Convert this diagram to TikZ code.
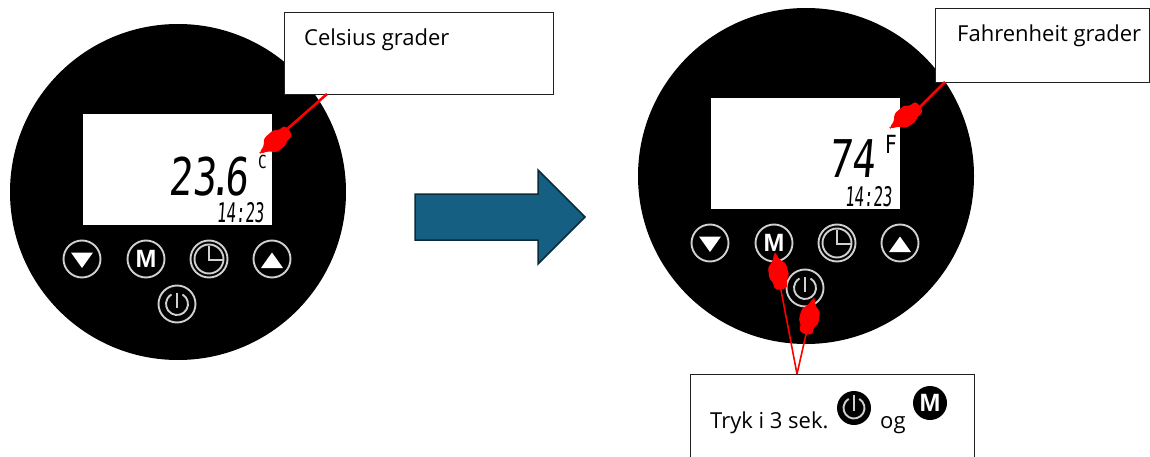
\documentclass[tikz,border=0pt]{standalone}
\usepackage{fontspec}
\setmainfont{Open Sans}
\newfontfamily\lcdfont{DejaVu Sans Mono}
\newfontfamily\iconfont{Liberation Sans}
\usetikzlibrary{calc}
\definecolor{ringgray}{HTML}{D0D0D0}
\definecolor{arrowfill}{HTML}{156082}
\definecolor{arrowline}{HTML}{0A2B3A}
\definecolor{boxline}{HTML}{202020}
\tikzset{
  x=1pt,y=-1pt,
  body/.style={circle,fill=black,draw=none,minimum size=336pt,inner sep=0pt},
  lcd/.style={fill=white,draw=none},
  ring/.style={draw=ringgray,line width=1.9pt},
  note/.style={draw=boxline,line width=0.8pt,fill=white},
  notetext/.style={font=\fontsize{22}{24}\selectfont,anchor=base west,inner sep=0pt,text=black},
  pointer/.style={draw=red,line width=1.6pt},
  pointerthick/.style={draw=red,line width=2.6pt},
  lcdbig/.style={font=\fontsize{52}{52}\lcdfont,inner sep=0pt,text=black,xscale=0.75,xslant=0.12,transform shape},
  lcdsmall/.style={font=\fontsize{27}{27}\lcdfont,inner sep=0pt,text=black,xscale=0.58,xslant=0.12,transform shape},
  lcdunit/.style={inner sep=0pt,text=black,xscale=0.8,transform shape},
  handshape/.pic={
    \fill[red,rounded corners=2.5pt] (0,-0.8) -- (7,-3) -- (12,-9) -- (25,-10) -- (28,-6.5) -- (36,-6.5) -- (37,-2) -- (37,3)
      -- (35,7) -- (28,7) -- (25,10) -- (13,9.5) -- (8,4) -- (0,0.8) -- cycle;
  },
  pics/device/.style={code={
    \node[body] at (0,0) {};
    \fill[lcd] (-95,-78) rectangle (94,33);
    % down
    \draw[ring] (-96,67) circle (18.5);
    \fill[white] (-107,60.5) -- (-85,60.5) -- (-96,76) -- cycle;
    % M
    \draw[ring] (-32,67) circle (18.5);
    \node[text=white,inner sep=0pt,font=\fontsize{25}{25}\iconfont\bfseries] at (-32,67) {M};
    % clock
    \draw[ring] (31,67) circle (18.5);
    \draw[ring] (31,67) circle (14.5);
    \draw[ring] (31,54) -- (31,68) -- (46,68);
    % up
    \draw[ring] (94,67) circle (18.5);
    \fill[white] (83,76) -- (105,76) -- (94,60.5) -- cycle;
    % power
    \draw[ring] (-1,112) circle (18.5);
    \draw[ring] ($(-1,112)+(-60:11)$) arc[start angle=-60,end angle=240,radius=11];
    \draw[ring,line width=2pt] (-1,101) -- (-1,116);
  }},
}
\begin{document}
\begin{tikzpicture}
\useasboundingbox (0,0) rectangle (1150,457);
\fill[white] (0,0) rectangle (1150,457);
\pic at (178,192) {device};
\pic at (806,176) {device};

% LCD text left
\node[lcdbig] (tempc) at (210,177) {23\kern-10pt.\kern-10pt6};
\node[lcdunit,font=\fontsize{18}{18}\lcdfont] (unitc) at (262.5,161.5) {C};
\node[lcdsmall] (timel) at (241,213) {14:23};
% LCD text right
\node[lcdbig] (tempf) at (853.5,159) {74};
\node[lcdunit,font=\fontsize{25}{25}\lcdfont] (unitf) at (891,144) {F};
\node[lcdsmall] (timer) at (869,197) {14:23};

% block arrow
\draw[fill=arrowfill,draw=arrowline,line width=1.5pt,miter limit=10]
  (415,194) -- (538,194) -- (538,170) -- (585,217) -- (538,264) -- (538,240) -- (415,240) -- cycle;

% note boxes
\node[note,minimum width=269pt,minimum height=82pt,inner sep=0pt] (nc) at (418.5,53) {};
\node[note,minimum width=214pt,minimum height=74pt,inner sep=0pt] (nf) at (1042.5,45) {};
\node[note,minimum width=284pt,minimum height=90pt,inner sep=0pt,anchor=north west] (nt) at (690,374) {};
\node[notetext] (lc) at (304,46) {Celsius grader};
\node[notetext] (lf) at (957,42) {Fahrenheit grader};
\node[notetext] (lt) at (710,428) {Tryk i 3 sek.};
\node[notetext] (lo) at (880,428) {og};

% inline icons
\node[circle,fill=black,minimum size=34pt,inner sep=0pt] (ip) at (854,408) {};
\draw[ring] ($(ip)+(-60:10.5)$) arc[start angle=-60,end angle=240,radius=10.5];
\draw[ring,line width=2.4pt] (854,395) -- (854,411);
\node[circle,fill=black,minimum size=34pt,inner sep=0pt,text=white,font=\fontsize{25}{25}\iconfont\bfseries] (im) at (930,403) {M};

% pointers
\coordinate (hc) at (285,131);
\coordinate (hf) at (917,110);
\coordinate (hm) at (780,285);
\coordinate (hp) at (807,330);
\coordinate (ncend) at (327,94);
\coordinate (nfend) at (945,82);
\coordinate (ntend) at (797,374);
\draw[pointerthick] (ncend) -- (hc);
\draw[pointerthick] (nfend) -- (hf);
\draw[pointer] (ntend) -- (hm);
\draw[pointer] (ntend) -- (hp);
\pic[shift={(260,153)},rotate=38] {handshape};
\pic[shift={(890,128)},rotate=36] {handshape};
\pic[shift={(775,253)},rotate=-80] {handshape};
\pic[shift={(814,298)},rotate=-103] {handshape};
\end{tikzpicture}
\end{document}
